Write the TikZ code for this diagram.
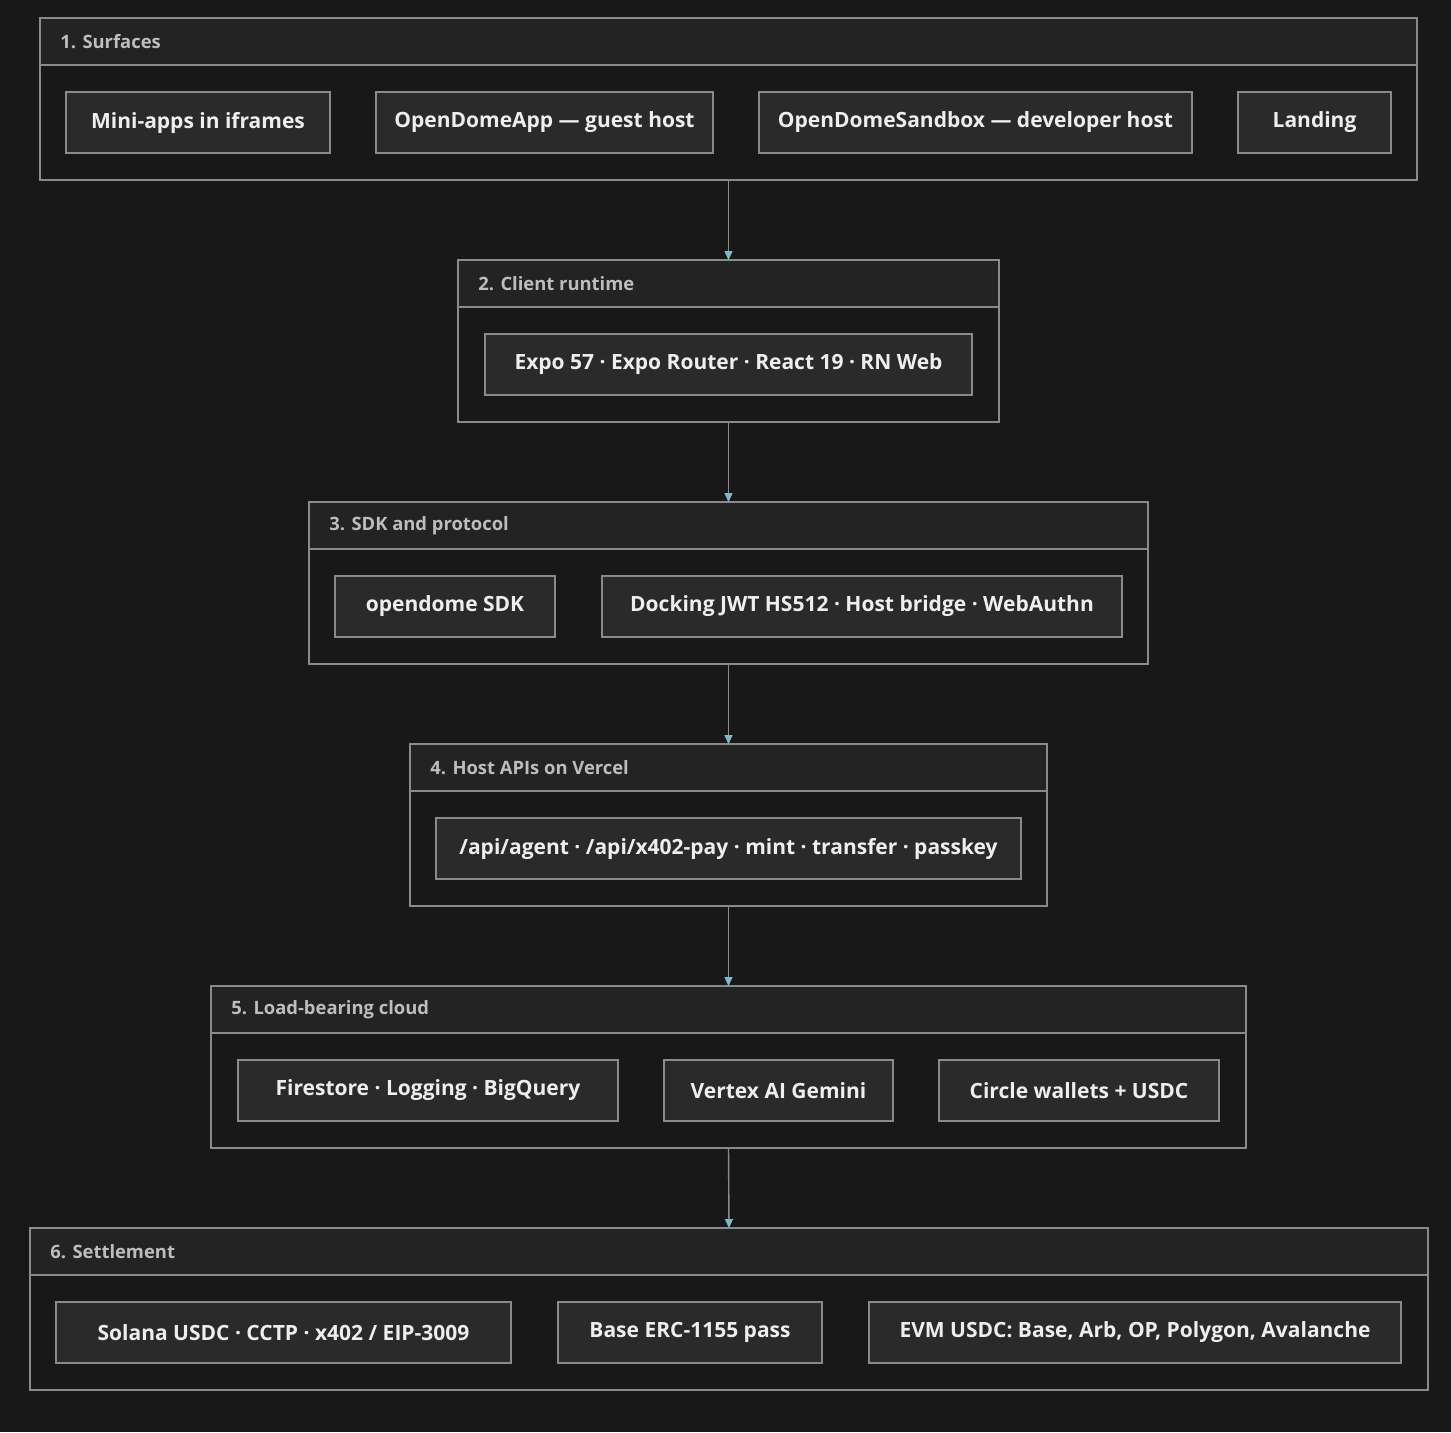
\documentclass[tikz,border=0pt]{standalone}
\usepackage{fontspec}
\setmainfont{Open Sans}
\usetikzlibrary{arrows.meta}
\definecolor{bg}{HTML}{181818}
\definecolor{hd}{HTML}{232323}
\definecolor{bx}{HTML}{2A2A2A}
\definecolor{ln}{HTML}{8A8A8A}
\definecolor{tt}{HTML}{BDBDBD}
\definecolor{tx}{HTML}{EEEEEE}
\definecolor{ar}{HTML}{7FB8CC}
\tikzset{
  item/.style={draw=ln,fill=bx,line width=0.7pt},
  label/.style={text=tx,font=\fontsize{10.5}{12}\selectfont\bfseries},
  title/.style={anchor=west,text=tt,font=\fontsize{9.2}{11}\selectfont\bfseries,inner sep=0},
  link/.style={draw=ln,line width=0.7pt,-{Triangle[width=4pt,length=4.5pt,fill=ar,color=ar]}}
}
\newcommand{\layer}[6]{% name, x1, y1, x2, y2, title
  \fill[hd] (#2,#3) rectangle (#4,#3+47);
  \draw[ln,line width=0.7pt] (#2,#3) rectangle (#4,#5);
  \draw[ln,line width=0.7pt] (#2,#3+47) -- (#4,#3+47);
  \coordinate (#1t) at ({(#2+#4)/2},#3);
  \coordinate (#1b) at ({(#2+#4)/2},#5);
  \node[title] at (#2+20,#3+23.5) {#6};
}
\newcommand{\cell}[6]{% name, x1, y1, x2, y2, text
  \draw[item] (#2,#3) rectangle (#4,#5);
  \node[label] (#1) at ({(#2+#4)/2},{(#3+#5)/2}) {#6};
}
\begin{document}
\begin{tikzpicture}[x=0.5pt,y=-0.5pt]
\fill[bg] (0,0) rectangle (1451,1432);
\useasboundingbox (0,0) rectangle (1451,1432);
% layer 1
\layer{s}{40}{18}{1417}{180}{1. Surfaces}
\cell{mini}{66}{92}{330}{153}{Mini-apps in iframes}
\cell{app}{376}{92}{713}{153}{OpenDomeApp — guest host}
\cell{sbx}{759}{92}{1192}{153}{OpenDomeSandbox — developer host}
\cell{land}{1238}{92}{1391}{153}{Landing}
% layer 2
\layer{c}{458}{260}{999}{422}{2. Client runtime}
\cell{expo}{485}{334}{972}{395}{Expo 57 · Expo Router · React 19 · RN Web}
% layer 3
\layer{p}{309}{502}{1148}{664}{3. SDK and protocol}
\cell{sdk}{335}{576}{555}{637}{opendome SDK}
\cell{jwt}{602}{576}{1122}{637}{Docking JWT HS512 · Host bridge · WebAuthn}
% layer 4
\layer{h}{410}{744}{1047}{906}{4. Host APIs on Vercel}
\cell{api}{436}{818}{1021}{879}{/api/agent · /api/x402-pay · mint · transfer · passkey}
% layer 5
\layer{l}{211}{986}{1246}{1148}{5. Load-bearing cloud}
\cell{fire}{238}{1060}{618}{1121}{Firestore · Logging · BigQuery}
\cell{vtx}{664}{1060}{893}{1121}{Vertex AI Gemini}
\cell{circ}{939}{1060}{1219}{1121}{Circle wallets + USDC}
% layer 6
\layer{e}{30}{1228}{1428}{1390}{6. Settlement}
\cell{sol}{56}{1302}{511}{1363}{Solana USDC · CCTP · x402 / EIP-3009}
\cell{base}{558}{1302}{822}{1363}{Base ERC-1155 pass}
\cell{evm}{869}{1302}{1401}{1363}{EVM USDC: Base, Arb, OP, Polygon, Avalanche}
% links
\draw[link] (sb) -- (ct);
\draw[link] (cb) -- (pt);
\draw[link] (pb) -- (ht);
\draw[link] (hb) -- (lt);
\draw[link] (lb) -- (et);
\end{tikzpicture}
\end{document}
